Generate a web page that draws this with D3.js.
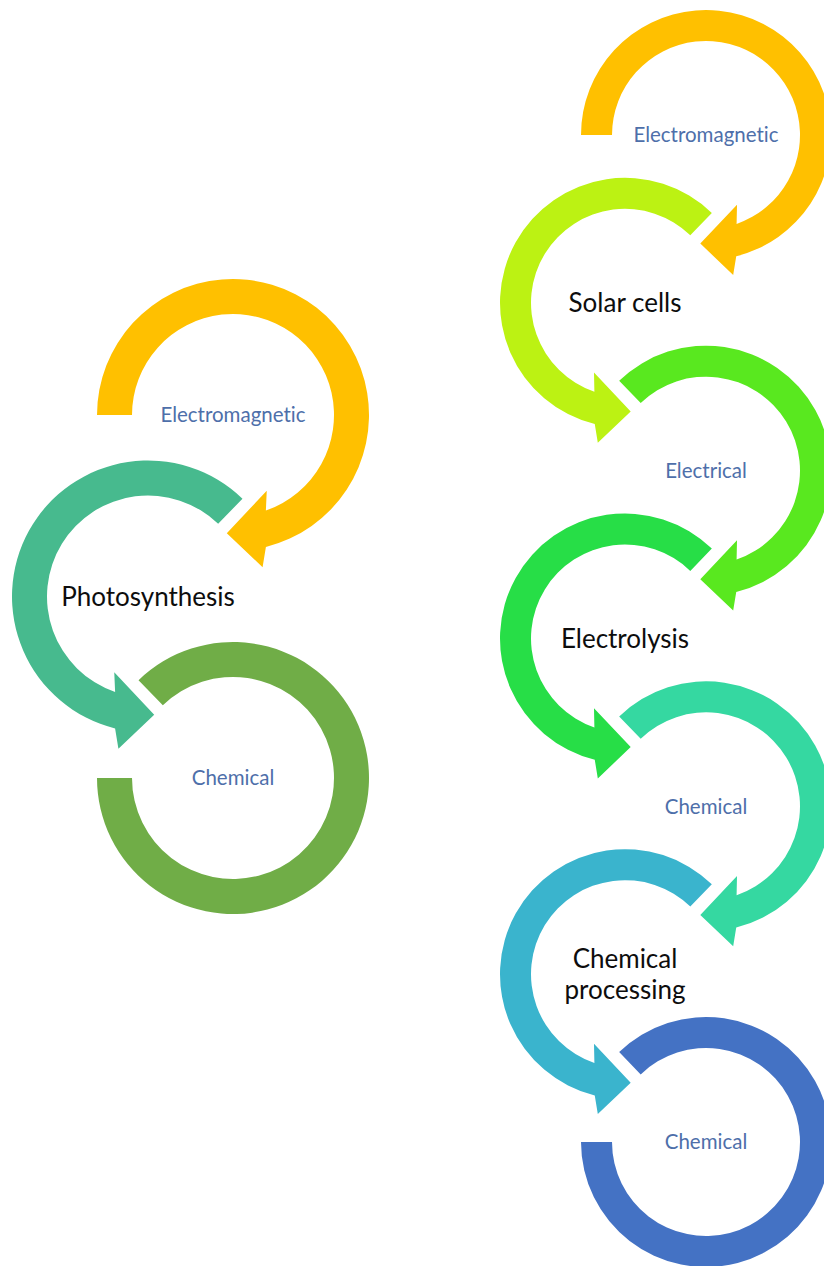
<!DOCTYPE html>
<html>
<head>
<meta charset="utf-8">
<script src="https://cdn.jsdelivr.net/npm/d3@7"></script>
<style>
  html, body { margin: 0; padding: 0; background: #ffffff; }
  svg { display: block; }
  text { font-variant-ligatures: none; }
</style>
</head>
<body>
<div id="chart"></div>
<script>
// ---- data ----
const leftLabels = ["Electromagnetic", "Photosynthesis", "Chemical"];
const leftRoles  = ["energy", "process", "energy"];
const leftColors = ["#FFC000", "#47BA8E", "#70AD47"];

const rightLabels = ["Electromagnetic", "Solar cells", "Electrical", "Electrolysis", "Chemical", "Chemical processing", "Chemical"];
const rightRoles  = ["energy", "process", "energy", "process", "energy", "process", "energy"];
const rightColors = ["#FFC000", "#BCF213", "#59E81F", "#27DE47", "#35D8A1", "#3AB4CD", "#4472C4"];

// ---- layout ----
const W = 824, H = 1266;
const svg = d3.select("#chart").append("svg")
  .attr("width", W).attr("height", H)
  .style("background", "#ffffff");

const columns = [
  { labels: leftLabels, roles: leftRoles, colors: leftColors,
    y: d3.scaleLinear().domain([0, 2]).range([415, 778]),
    x: d3.scaleOrdinal().domain([0, 1]).range([233, 148]),
    R: 136, w: 35 },
  { labels: rightLabels, roles: rightRoles, colors: rightColors,
    y: d3.scaleLinear().domain([0, 6]).range([135, 1142]),
    x: d3.scaleOrdinal().domain([0, 1]).range([706, 625]),
    R: 125, w: 31 }
];

const rad = d => d * Math.PI / 180;
const pol = (r, a) => [r * Math.cos(rad(a)), r * Math.sin(rad(a))];

// canonical (clockwise) circular-arrow shape centred at origin
function shapePath(R, w, startDeg, hasArrow) {
  const Ri = R - w;
  const p = d3.path();
  const s = pol(R, startDeg);
  p.moveTo(s[0], s[1]);
  if (hasArrow) {
    const outEnd = 436, inEnd = 431;
    p.arc(0, 0, R, rad(startDeg), rad(outEnd), false);
    const bo = pol(R * 1.14, 439), tip = pol(R * 0.87, 453), bi = pol(R * 0.61, 426);
    p.lineTo(bo[0], bo[1]);
    p.lineTo(tip[0], tip[1]);
    p.lineTo(bi[0], bi[1]);
    const ie = pol(Ri, inEnd);
    p.lineTo(ie[0], ie[1]);
    p.arc(0, 0, Ri, rad(inEnd), rad(startDeg), true);
  } else {
    const endDeg = 540;
    p.arc(0, 0, R, rad(startDeg), rad(endDeg), false);
    const ie = pol(Ri, endDeg);
    p.lineTo(ie[0], ie[1]);
    p.arc(0, 0, Ri, rad(endDeg), rad(startDeg), true);
  }
  p.closePath();
  return p.toString();
}

columns.forEach(col => {
  const n = col.labels.length;
  const items = col.labels.map((label, i) => ({
    label, i, role: col.roles[i], color: col.colors[i],
    cx: col.x(i % 2), cy: col.y(i),
    mirror: i % 2 === 1,
    start: i === 0 ? 180 : 226,
    arrow: i < n - 1
  }));

  const g = svg.append("g");
  g.selectAll("path.ring").data(items).join("path")
    .attr("class", "ring")
    .attr("transform", d => `translate(${d.cx},${d.cy}) scale(${d.mirror ? -1 : 1},1)`)
    .attr("d", d => shapePath(col.R, col.w, d.start, d.arrow))
    .attr("fill", d => d.color);

  const t = g.selectAll("text.lbl").data(items).join("text")
    .attr("class", "lbl")
    .attr("x", d => d.cx)
    .attr("y", d => d.cy)
    .attr("text-anchor", "middle")
    .attr("font-family", "Lato, 'Open Sans', sans-serif")
    .attr("font-size", d => d.role === "process" ? 26 : 20.5)
    .attr("fill", d => d.role === "process" ? "#0d0d0d" : "#4E6FAA");

  t.each(function(d) {
    const lines = (d.role === "process" && d.label.length > 15) ? d.label.split(" ") : [d.label];
    const lh = 31;
    const sel = d3.select(this);
    lines.forEach((ln, k) => {
      sel.append("tspan")
        .attr("x", d.cx)
        .attr("y", d.cy + (k - (lines.length - 1) / 2) * lh)
        .attr("dy", "0.35em")
        .text(ln);
    });
  });
});
</script>
</body>
</html>
